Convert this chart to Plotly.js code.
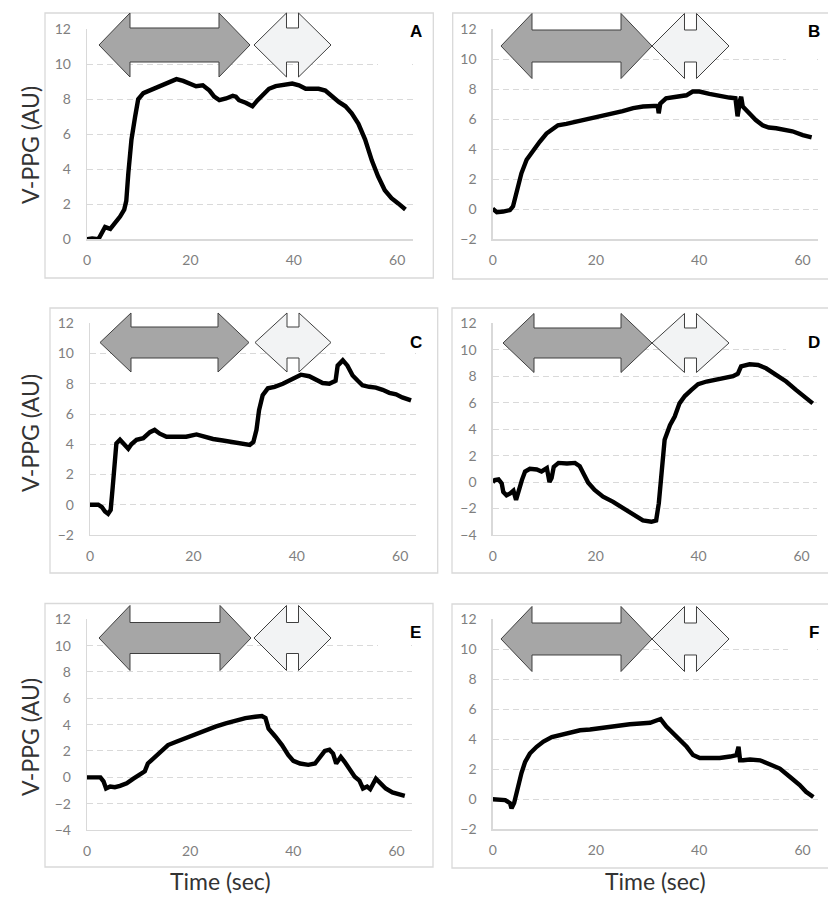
<!DOCTYPE html>
<html>
<head>
<meta charset="utf-8">
<script src="https://cdn.plot.ly/plotly-3.0.1.min.js"></script>
<style>html,body{margin:0;padding:0;background:#fff;}#chart{width:828px;height:907px;}</style>
</head>
<body>
<div id="chart"></div>
<script>
// ---------------- data (time in s, V-PPG in AU) ----------------
const aTime = [0,1,2.2,2.6,3.5,4.5,5.4,6.4,7.2,7.6,8.0,8.6,9.3,9.9,10.9,12.2,13.4,14.7,16.0,17.3,18.6,19.9,21.1,22.4,23.7,24.6,25.6,26.9,28.2,28.8,29.4,30.7,32.0,33.0,33.9,35.2,36.5,38.4,39.7,41.0,42.3,43.5,44.8,46.1,47.4,48.7,50.0,51.2,52.5,53.8,55.1,56.3,57.6,58.9,60.2,61.6];
const aVal  = [0,0.05,0,0.25,0.7,0.6,0.9,1.3,1.7,2.2,3.8,5.7,7.0,8.0,8.35,8.5,8.7,8.8,9.0,9.15,9.05,8.9,8.75,8.8,8.5,8.15,7.95,8.05,8.2,8.15,7.95,7.8,7.6,7.95,8.25,8.6,8.75,8.85,8.9,8.8,8.6,8.6,8.6,8.5,8.15,7.85,7.6,7.2,6.6,5.7,4.5,3.6,2.8,2.35,2.05,1.7];

const bTime = [0,0.81,2.02,3.34,3.94,4.65,5.56,6.57,7.89,9.1,10.41,11.63,12.64,14.26,16.28,18.2,20.12,22.04,23.96,25.17,27.2,29.12,31.95,32.15,32.45,33.57,35.59,37.51,38.72,40.04,41.96,43.88,45.8,47.01,47.42,47.92,48.12,48.43,49.74,50.95,52.27,53.48,54.9,56.11,58.03,60.05,61.77];
const bVal  = [0.05,-0.2,-0.15,-0.05,0.2,1.05,2.4,3.3,3.95,4.5,5.05,5.4,5.6,5.7,5.85,6.0,6.15,6.3,6.45,6.55,6.75,6.85,6.9,6.4,7.05,7.4,7.5,7.6,7.85,7.85,7.7,7.55,7.45,7.4,6.2,7.3,7.5,6.85,6.4,5.95,5.6,5.45,5.4,5.3,5.2,4.95,4.8];

const cTime = [0,1.6,2.3,2.9,3.5,4.0,4.4,4.8,5.1,5.8,6.6,7.4,8.0,9.0,10.3,11.6,12.5,13.5,14.8,16.7,18.6,20.6,21.9,23.8,25.7,27.7,29.6,30.9,31.6,32.2,32.7,33.4,34.4,35.7,37.3,39.2,40.8,42.4,43.7,45.0,46.3,47.5,47.9,48.9,49.8,50.8,51.8,52.7,54.0,55.3,56.6,57.9,59.2,60.4,62.1];
const cVal  = [0,0,-0.15,-0.45,-0.6,-0.35,1.2,3.2,4.05,4.3,4.05,3.7,4.0,4.3,4.4,4.8,4.95,4.7,4.5,4.5,4.5,4.65,4.5,4.35,4.25,4.15,4.05,3.95,4.15,4.95,6.25,7.25,7.7,7.8,8.0,8.35,8.6,8.5,8.3,8.05,8.0,8.2,9.2,9.55,9.2,8.55,8.2,7.9,7.8,7.75,7.6,7.4,7.3,7.1,6.9];

const dTime = [0,0.4,1.13,1.75,2.06,2.68,3.4,4.02,4.54,4.95,5.67,6.29,7.22,8.56,9.49,10.52,11.03,11.44,11.86,12.78,14.43,15.98,16.91,17.63,18.56,19.8,21.44,23.4,25.36,27.32,29.18,30.83,31.75,32.27,32.79,33.4,34.44,35.36,36.29,37.32,38.56,39.9,41.55,42.79,44.75,46.7,47.63,48.25,49.9,51.55,53.1,55.06,57.01,58.97,60.93,62.17];
const dVal  = [0,0.15,0.2,-0.1,-0.75,-1.0,-0.85,-0.65,-1.35,-0.75,0.15,0.8,1.0,0.95,0.8,1.05,0.0,0.3,1.15,1.45,1.4,1.45,1.2,0.65,-0.05,-0.6,-1.1,-1.5,-2.0,-2.5,-2.9,-3.0,-2.9,-1.6,0.9,3.2,4.3,4.95,5.95,6.5,6.95,7.4,7.6,7.7,7.9,8.0,8.2,8.75,8.9,8.85,8.6,8.1,7.6,6.95,6.3,5.95];

const eTime = [0,2.6,3.2,3.7,4.5,5.4,6.4,7.7,9.0,10.2,11.2,11.8,13.1,14.4,15.7,17.3,19.2,21.1,23.0,24.9,26.9,28.8,30.7,32.6,33.9,34.6,35.2,36.5,37.8,39.0,40.0,41.3,42.9,44.2,45.1,46.1,47.0,47.7,48.3,49.2,49.9,50.9,51.9,52.8,53.5,54.3,54.9,56.0,57.0,57.9,59.2,60.5,61.6];
const eVal  = [0,0,-0.3,-0.85,-0.7,-0.75,-0.65,-0.45,-0.1,0.2,0.45,1.05,1.55,2.05,2.45,2.7,3.0,3.3,3.6,3.85,4.1,4.3,4.5,4.6,4.65,4.5,3.7,3.1,2.45,1.7,1.25,1.05,0.95,1.05,1.45,2.0,2.1,1.8,1.05,1.55,1.2,0.55,0.05,-0.25,-0.85,-0.7,-0.9,-0.1,-0.45,-0.85,-1.15,-1.25,-1.4];

const fTime = [0,2.43,3.34,3.65,4.15,4.76,5.57,6.28,7.19,8.51,9.83,11.45,13.07,14.99,16.92,18.84,20.77,22.69,24.62,26.54,28.57,30.49,31.71,32.52,33.63,34.95,36.27,37.58,38.8,40.11,42.04,43.96,45.99,47.21,47.61,47.91,48.52,49.84,51.76,53.69,55.61,57.53,59.46,60.68,62.1];
const fVal  = [0,-0.05,-0.25,-0.6,-0.25,0.75,1.75,2.5,3.05,3.5,3.85,4.15,4.3,4.45,4.6,4.65,4.75,4.85,4.9,5.0,5.05,5.1,5.25,5.35,4.85,4.4,3.95,3.5,2.95,2.75,2.75,2.75,2.85,2.95,3.5,2.6,2.6,2.65,2.6,2.3,2.05,1.5,0.95,0.5,0.15];

const panelLabels = ['A','B','C','D','E','F'];
const yRanges = [[0,12],[-2,12],[-2,12],[-4,12],[-4,12],[-2,12]];
const xRange = [0,63];
const xTicks = [0,20,40,60];
const xTitleText = 'Time (sec)';
const yTitleText = 'V-PPG (AU)';

// ---------------- layout geometry (pixels) ----------------
const W = 828, H = 907;
const PX = x => x / W;
const PY = y => 1 - y / H;

const geo = [
  {plot:[87,412.7,29.3,239.3],  box:[45,13,433.3,278],   lab:[416,32],  arr:{yc:45,  dark:[99,250],  light:[254,331], hh:32,  sh:17}, mask:[378,20,412,75]},
  {plot:[492.7,818,29.3,239.3], box:[452.7,13,830,279],  lab:[814,32],  arr:{yc:46,  dark:[501,652], light:[652,729], hh:32.5,sh:16}, mask:[786,20,817,70]},
  {plot:[90,415.7,323.3,535],   box:[50,308,437.7,573],  lab:[416,342], arr:{yc:342.5,dark:[100,249],light:[255,331], hh:29.5,sh:15.5}, mask:[385,315,415,366]},
  {plot:[492.7,817,323.3,535],  box:[452,308,830,573],   lab:[814,342], arr:{yc:343, dark:[503,652], light:[652,729], hh:29.5,sh:15}, mask:[786,315,816,362]},
  {plot:[87,412,619.3,830],     box:[45,603.5,433,867],  lab:[415,632], arr:{yc:638, dark:[99,251],  light:[254,331], hh:32.5,sh:15.5}, mask:[378,610,411,658]},
  {plot:[492.7,818,619.3,829.3],box:[452,604,830,868],   lab:[814,632], arr:{yc:639, dark:[501,652], light:[652,729], hh:32.5,sh:16}, mask:[788,610,817,662]}
];

const series = [[aTime,aVal],[bTime,bVal],[cTime,cVal],[dTime,dVal],[eTime,eVal],[fTime,fVal]];

const tickFont = {family:'Lato, "Open Sans", sans-serif', size:14, color:'#7f7f7f'};
const gridCol = '#d9d9d9';

const traces = [];
const layout = {
  width:W, height:H,
  margin:{l:0,r:0,t:0,b:0},
  paper_bgcolor:'#ffffff', plot_bgcolor:'rgba(0,0,0,0)',
  showlegend:false,
  shapes:[], annotations:[]
};

function arrowPath(xl, xr, yc, head, hh, sh) {
  const pts = [
    [xl, yc], [xl+head, yc-hh], [xl+head, yc-sh], [xr-head, yc-sh], [xr-head, yc-hh],
    [xr, yc], [xr-head, yc+hh], [xr-head, yc+sh], [xl+head, yc+sh], [xl+head, yc+hh]
  ];
  return 'M' + pts.map(p => PX(p[0]).toFixed(5) + ',' + PY(p[1]).toFixed(5)).join(' L') + ' Z';
}

series.forEach((s, i) => {
  const g = geo[i];
  const n = i === 0 ? '' : String(i+1);
  const xa = 'xaxis' + n, ya = 'yaxis' + n;
  traces.push({
    x: s[0], y: s[1], type:'scatter', mode:'lines',
    xaxis:'x'+n, yaxis:'y'+n,
    line:{color:'#000000', width:4.4, shape:'linear'},
    hoverinfo:'skip', cliponaxis:false
  });
  layout[xa] = {
    domain:[PX(g.plot[0]), PX(g.plot[1])], anchor:'y'+n,
    range:xRange, tickvals:xTicks, ticktext:xTicks.map(String),
    showgrid:false, zeroline:false, showline:true, linecolor:gridCol, linewidth:1.3,
    ticks:'', tickfont:tickFont, ticklabelstandoff:8, fixedrange:true
  };
  const yr = yRanges[i];
  layout[ya] = {
    domain:[PY(g.plot[3]), PY(g.plot[2])], anchor:'x'+n,
    range:yr, dtick:2, tick0:0,
    showgrid:true, gridcolor:gridCol, gridwidth:1, griddash:'6px,4px',
    zeroline:false, showline:true, linecolor:gridCol, linewidth:1.3,
    ticks:'', tickfont:tickFont, ticklabelstandoff:12, fixedrange:true
  };
  // panel frame
  layout.shapes.push({type:'rect', xref:'paper', yref:'paper', layer:'below',
    x0:PX(g.box[0]), x1:PX(g.box[2]), y0:PY(g.box[3]), y1:PY(g.box[1]),
    line:{color:'#d9d9d9', width:1.3}, fillcolor:'rgba(0,0,0,0)'});
  // label background (hides grid ends like the original text box)
  layout.shapes.push({type:'rect', xref:'paper', yref:'paper', layer:'above',
    x0:PX(g.mask[0]), x1:PX(g.mask[2]), y0:PY(g.mask[3]), y1:PY(g.mask[1]),
    line:{width:0}, fillcolor:'#ffffff'});
  // arrows
  const a = g.arr;
  layout.shapes.push({type:'path', xref:'paper', yref:'paper', layer:'above',
    path:arrowPath(a.dark[0], a.dark[1], a.yc, 31, a.hh, a.sh),
    fillcolor:'#a6a6a6', line:{color:'#3f3f3f', width:1}});
  layout.shapes.push({type:'path', xref:'paper', yref:'paper', layer:'above',
    path:arrowPath(a.light[0], a.light[1], a.yc, (a.light[1]-a.light[0]-12)/2, a.hh, a.sh),
    fillcolor:'#f2f3f4', line:{color:'#3f3f3f', width:1}});
  // panel letter
  layout.annotations.push({xref:'paper', yref:'paper', x:PX(g.lab[0]), y:PY(g.lab[1]),
    text:'<b>'+panelLabels[i]+'</b>', showarrow:false, xanchor:'center', yanchor:'middle',
    font:{family:'"Liberation Sans", Arial, sans-serif', size:17, color:'#000000'}});
});

// y titles (left column)
[145, 433, 737].forEach(yc => {
  layout.annotations.push({xref:'paper', yref:'paper', x:PX(30), y:PY(yc), text:yTitleText,
    textangle:-90, showarrow:false, xanchor:'center', yanchor:'middle',
    font:{family:'Lato, "Open Sans", sans-serif', size:23, color:'#333333'}});
});
// x titles (bottom row)
[220, 655].forEach(xc => {
  layout.annotations.push({xref:'paper', yref:'paper', x:PX(xc), y:PY(881), text:xTitleText,
    showarrow:false, xanchor:'center', yanchor:'middle',
    font:{family:'Lato, "Open Sans", sans-serif', size:23, color:'#333333'}});
});

Plotly.newPlot('chart', traces, layout, {displayModeBar:false, staticPlot:true});
</script>
</body>
</html>
